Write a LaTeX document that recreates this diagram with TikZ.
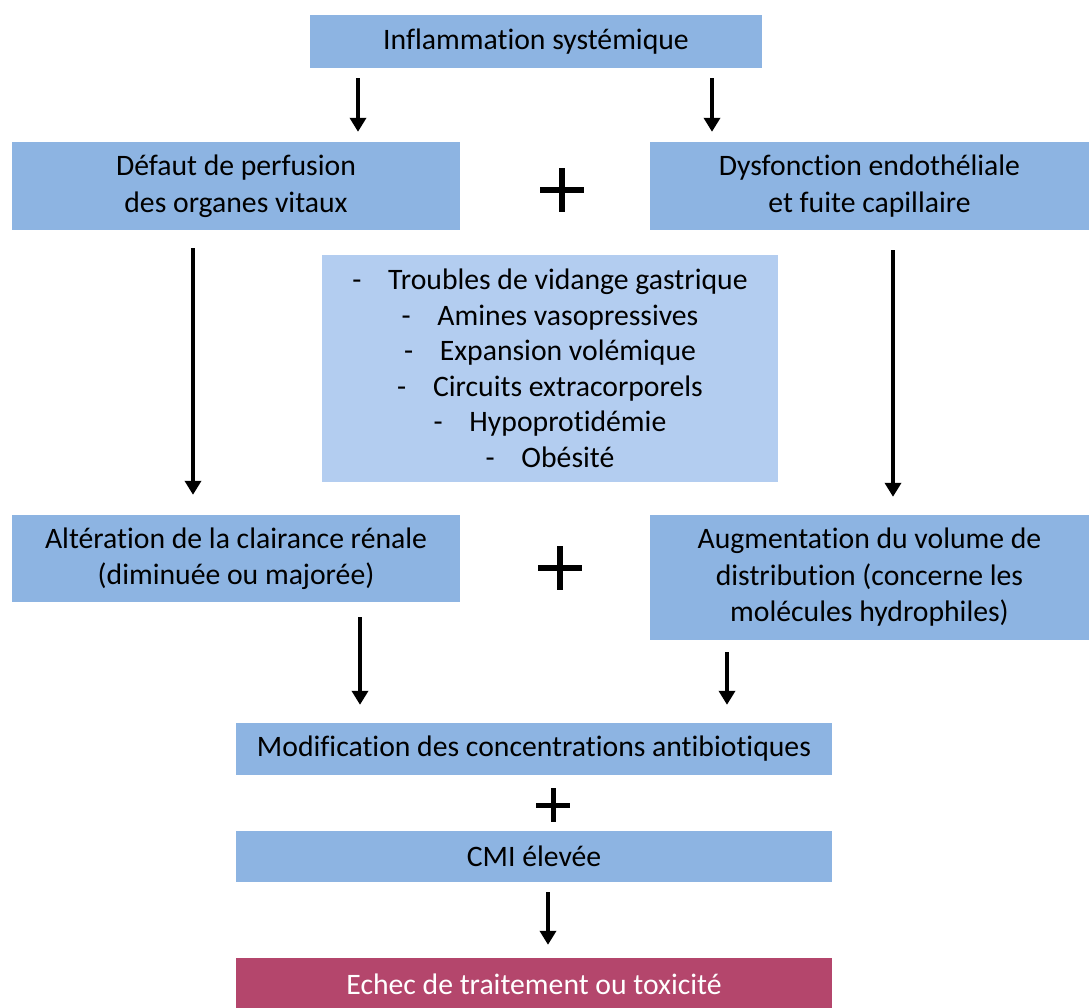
\documentclass[tikz,border=0pt]{standalone}
\usepackage{fontspec}
\setmainfont[Ligatures=NoCommon]{Carlito}
\usetikzlibrary{arrows.meta}
\definecolor{boxblue}{HTML}{8DB4E2}
\definecolor{listblue}{HTML}{B3CDF0}
\definecolor{maroon}{HTML}{B4466C}
\tikzset{
  box/.style={fill=boxblue, inner sep=0pt, align=center, font=\fontsize{29.7}{36.5}\selectfont, text=black},
  listbox/.style={fill=listblue, inner sep=0pt, align=center, font=\fontsize{29.7}{35.5}\selectfont},
  endbox/.style={fill=maroon, inner sep=0pt, align=center, font=\fontsize{29.7}{36.5}\selectfont, text=white},
  arr/.style={line width=4pt, -{Triangle[width=16pt,length=14pt]}},
  plusbar/.style={line width=6pt},
}
\begin{document}
\begin{tikzpicture}[x=1pt,y=-1pt]
\useasboundingbox (0,0) rectangle (1089,1007);
\node[box, minimum width=452, minimum height=53] (top) at (536,41.5) {Inflammation systémique};
\node[box, minimum width=448, minimum height=88] (l1) at (236,186) {Défaut de perfusion\\des organes vitaux};
\node[box, minimum width=439, minimum height=88] (r1) at (869.5,186) {Dysfonction endothéliale\\et fuite capillaire};
\node[listbox, minimum width=456, minimum height=227] (lst) at (550,368.5) {-\hspace{0.9em}Troubles de vidange gastrique\\-\hspace{0.9em}Amines vasopressives\\-\hspace{0.9em}Expansion volémique\\-\hspace{0.9em}Circuits extracorporels\\-\hspace{0.9em}Hypoprotidémie\\-\hspace{0.9em}Obésité};
\node[box, minimum width=448, minimum height=87] (l2) at (236,558.5) {Altération de la clairance rénale\\(diminuée ou majorée)};
\node[box, minimum width=439, minimum height=125] (r2) at (869.5,577.5) {Augmentation du volume de\\distribution (concerne les\\molécules hydrophiles)};
\node[box, minimum width=596, minimum height=52] (mod) at (534,749) {Modification des concentrations antibiotiques};
\node[box, minimum width=596, minimum height=51] (cmi) at (534,856.5) {CMI élevée};
\node[endbox, minimum width=596, minimum height=52] (fin) at (534,984) {Echec de traitement ou toxicité};

\coordinate (xa) at (358,0);
\coordinate (xb) at (712,0);
\coordinate (xc) at (193,0);
\coordinate (xd) at (893,0);
\coordinate (xe) at (360,0);
\coordinate (xf) at (727,0);
\coordinate (xg) at (548,0);

\draw[arr, shorten <=10pt, shorten >=10pt] (top.south -| xa) -- (l1.north -| xa);
\draw[arr, shorten <=10pt, shorten >=10pt] (top.south -| xb) -- (r1.north -| xb);
\draw[arr, shorten <=18pt, shorten >=20pt] (l1.south -| xc) -- (l2.north -| xc);
\draw[arr, shorten <=20pt, shorten >=18pt] (r1.south -| xd) -- (r2.north -| xd);
\draw[arr, shorten <=15pt, shorten >=18pt] (l2.south -| xe) -- (mod.north -| xe);
\draw[arr, shorten <=12pt, shorten >=18pt] (r2.south -| xf) -- (mod.north -| xf);
\draw[arr, shorten <=10pt, shorten >=13pt] (cmi.south -| xg) -- (fin.north -| xg);

\draw[plusbar] (540,190) -- (584,190) (562,168) -- (562,212);
\draw[plusbar] (538,568) -- (582,568) (560,546) -- (560,590);
\draw[plusbar, line width=5pt] (536,805) -- (570,805) (553,788) -- (553,822);
\end{tikzpicture}
\end{document}
